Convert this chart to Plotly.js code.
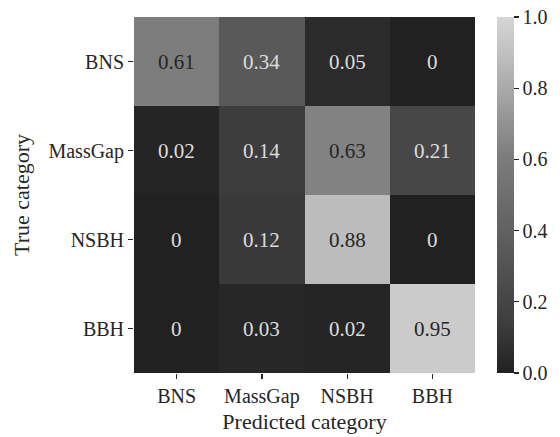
<!DOCTYPE html>
<html>
<head>
<meta charset="utf-8">
<script src="https://cdn.plot.ly/plotly-3.0.1.min.js"></script>
<style>html,body{margin:0;padding:0;background:#fff;}#chart{width:560px;height:437px;}</style>
</head>
<body>
<div id="chart"></div>
<script>
const predicted = ["BNS", "MassGap", "NSBH", "BBH"];
const trueCats = ["BNS", "MassGap", "NSBH", "BBH"];
const rowBNS = [0.61, 0.34, 0.05, 0];
const rowMassGap = [0.02, 0.14, 0.63, 0.21];
const rowNSBH = [0, 0.12, 0.88, 0];
const rowBBH = [0, 0.03, 0.02, 0.95];
const colorbarTicks = [0, 0.2, 0.4, 0.6, 0.8, 1.0];

const z = [rowBNS, rowMassGap, rowNSBH, rowBBH];
const font = "Liberation Serif";
const ink = "#262626";

const annotations = [];
z.forEach((row, i) => {
  row.forEach((v, j) => {
    annotations.push({
      x: predicted[j], y: trueCats[i], xref: "x", yref: "y",
      text: String(v), showarrow: false,
      font: {family: font, size: 21, color: v > 0.5 ? "#262626" : "#dcdcdc"}
    });
  });
});

const trace = {
  type: "heatmap",
  x: predicted, y: trueCats, z: z,
  zmin: 0, zmax: 1,
  colorscale: [[0, "#212121"], [0.14, "#3d3d3d"], [0.34, "#595959"], [0.61, "#7d7d7d"], [0.88, "#bcbcbc"], [1, "#d6d6d6"]],
  hoverinfo: "skip",
  colorbar: {
    x: 1.0636, xanchor: "left", xpad: 0, y: 0.5, yanchor: "middle", ypad: 0,
    len: 1, lenmode: "fraction", thickness: 17, thicknessmode: "pixels",
    outlinewidth: 0,
    tickvals: colorbarTicks, ticktext: colorbarTicks.map(v => v.toFixed(1)),
    ticks: "outside", ticklen: 5, tickwidth: 1.25, tickcolor: ink,
    tickfont: {family: font, size: 20, color: ink}
  }
};

const layout = {
  width: 560, height: 437,
  margin: {l: 134, r: 80, t: 17, b: 64},
  paper_bgcolor: "#fff", plot_bgcolor: "#fff",
  font: {family: font, size: 20, color: ink},
  showlegend: false,
  xaxis: {
    type: "category", showgrid: false, zeroline: false, showline: false,
    ticks: "outside", ticklen: 5, tickwidth: 1.25, tickcolor: ink,
    tickfont: {family: font, size: 20, color: ink},
    title: {text: "Predicted category", font: {family: font, size: 22, color: ink}, standoff: 6},
    automargin: false, fixedrange: true
  },
  yaxis: {
    type: "category", autorange: "reversed", showgrid: false, zeroline: false, showline: false,
    ticks: "outside", ticklen: 5, tickwidth: 1.25, tickcolor: ink,
    tickfont: {family: font, size: 20, color: ink},
    title: {text: "True category", font: {family: font, size: 22, color: ink}, standoff: 12},
    automargin: false, fixedrange: true
  },
  annotations: annotations
};

Plotly.newPlot("chart", [trace], layout, {displayModeBar: false, staticPlot: true});
</script>
</body>
</html>
